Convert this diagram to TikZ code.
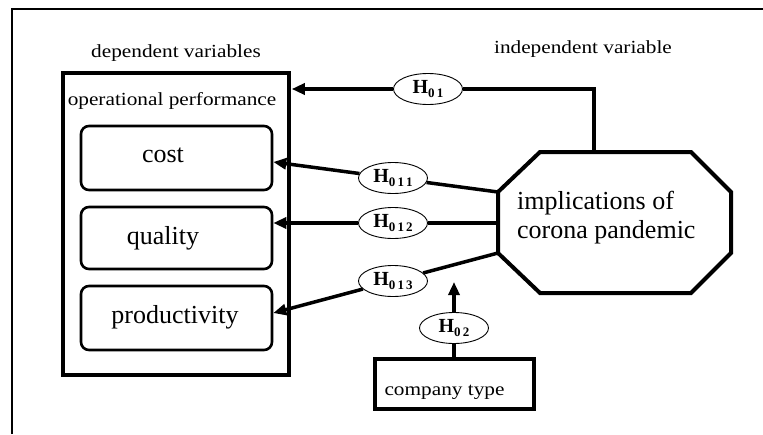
\documentclass[tikz,border=0pt]{standalone}
\usepackage{fontspec}
\setmainfont{Liberation Serif}
\usepackage{graphicx}
\usetikzlibrary{arrows.meta,shapes.geometric}
\newcommand\wtxt[1]{\scalebox{1.15}[1]{#1}}
\newcommand\hyplab[1]{\textbf{H}\raisebox{-4.5pt}{\fontsize{13}{13}\selectfont\textbf{#1}}}
\begin{document}
\begin{tikzpicture}[x=1pt,y=-1pt,
  conn/.style={line width=3.5pt},
  tip/.style={-{Triangle[length=13pt,width=11pt]}},
  hyp/.style={ellipse, draw, line width=0.9pt, fill=white, minimum width=69pt, minimum height=31pt, inner sep=0pt, font=\fontsize{20}{20}\selectfont},
  inbox/.style={draw, rounded corners=8pt, line width=2.6pt, minimum width=191pt, minimum height=64pt, inner sep=0pt},
  small/.style={font=\fontsize{18.5}{21}\selectfont},
  big/.style={font=\fontsize{26}{29}\selectfont}]
\useasboundingbox (0,0) rectangle (763,434);
% outer frame (only top and left edges visible)
\coordinate (fbl) at (12,434);
\coordinate (ftl) at (12,9);
\coordinate (ftr) at (763,9);
\draw[line width=2.5pt] (fbl) -- (ftl) -- (ftr);
% titles
\node[small, anchor=base] (dv) at (176,57) {\wtxt{dependent variables}};
\node[small, anchor=base] (iv) at (583,53) {\wtxt{independent variable}};
% dependent box
\node[draw, line width=3.5pt, minimum width=226pt, minimum height=302pt, inner sep=0pt] (dep) at (176,224) {};
\node[small, anchor=base] (op) at (172,105) {\wtxt{operational performance}};
\node[inbox] (cost) at (176.5,158) {};
\node[inbox, minimum height=62pt] (qual) at (176.5,238) {};
\node[inbox] (prod) at (176.5,318) {};
\node[big, anchor=base] (tcost) at (163,162) {cost};
\node[big, anchor=base] (tqual) at (163,244) {quality};
\node[big, anchor=base] (tprod) at (175,323) {productivity};
% octagon
\coordinate (o1) at (498,192);
\coordinate (o2) at (540,152);
\coordinate (o3) at (691,152);
\coordinate (o4) at (731,192);
\coordinate (o5) at (731,253);
\coordinate (o6) at (691,293);
\coordinate (o7) at (540,293);
\coordinate (o8) at (498,253);
\draw[line width=4pt, line join=miter] (o1) -- (o2) -- (o3) -- (o4) -- (o5) -- (o6) -- (o7) -- (o8) -- cycle;
\node[big, align=left, anchor=west, inner sep=0pt] (impl) at (517,218) {implications of\\corona pandemic};
\coordinate (otop) at (594,152);
\coordinate (omid) at (498,223);
% company type
\node[draw, line width=4pt, minimum width=159pt, minimum height=50pt, inner sep=0pt] (ctype) at (454,384) {};
\node[small, anchor=base west] (tct) at (381,395) {\wtxt{company type}};
% hypothesis ellipses
\node[hyp] (h01) at (428,89) {\hyplab{0\,1}};
\node[hyp] (h011) at (393,178) {\hyplab{0\,1\,1}};
\node[hyp] (h012) at (393,223) {\hyplab{0\,1\,2}};
\node[hyp] (h013) at (393,281) {\hyplab{0\,1\,3}};
\node[hyp] (h02) at (454,328) {\hyplab{0\,2}};
\coordinate (c02) at (454,282);
% connectors
\draw[conn] (otop) |- (h01);
\draw[conn,tip,shorten >=1pt] (h01) -- (dep.east |- h01);
\draw[conn] (o1) -- (h011);
\draw[conn,tip] (h011) -- ([yshift=-4pt]cost.east);
\draw[conn] (omid) -- (h012);
\draw[conn,tip] (h012) -- (qual.east |- h012);
\draw[conn] (o8) -- (h013);
\draw[conn,tip] (h013) -- ([yshift=5pt]prod.east);
\draw[conn] (ctype.north) -- (h02);
\draw[conn,tip] (h02) -- (c02);
\end{tikzpicture}
\end{document}
